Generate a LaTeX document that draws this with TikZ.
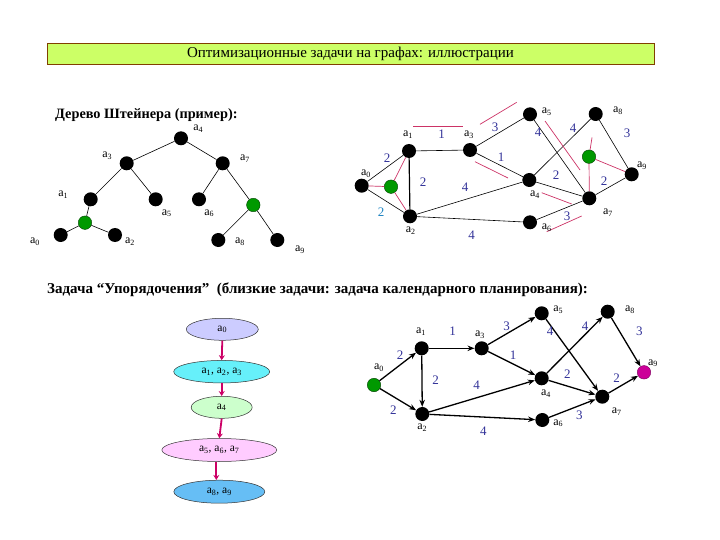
\documentclass[tikz,border=0pt]{standalone}
\usepackage{fontspec}
\setmainfont{Liberation Serif}
\usetikzlibrary{shapes.geometric,arrows.meta,calc}
\definecolor{barfill}{RGB}{204,255,102}
\definecolor{barline}{RGB}{128,64,0}
\definecolor{wcol}{RGB}{51,51,153}
\definecolor{pinkc}{RGB}{204,51,102}
\definecolor{greenc}{RGB}{0,153,0}
\definecolor{magc}{RGB}{204,0,153}
\definecolor{ea}{RGB}{204,204,255}
\definecolor{eb}{RGB}{102,240,250}
\definecolor{ec}{RGB}{204,255,204}
\definecolor{ed}{RGB}{255,204,255}
\definecolor{ee}{RGB}{102,190,245}
\definecolor{arrc}{RGB}{204,0,102}
\newcommand\av[1]{a\textsubscript{#1}}
\tikzset{
  vb/.style={circle,fill=black,inner sep=0pt,minimum size=14pt},
  vg/.style={circle,fill=greenc,draw=green!25!black,line width=0.4pt,inner sep=0pt,minimum size=13.5pt},
  vm/.style={circle,fill=magc,draw=magc!60!black,line width=0.4pt,inner sep=0pt,minimum size=13.5pt},
  lab/.style={font=\fontsize{12}{12}\selectfont,inner sep=0pt},
  wt/.style={font=\fontsize{13}{13}\selectfont,text=wcol,inner sep=0pt},
  edg/.style={draw=black,line width=0.6pt},
  pk/.style={draw=pinkc,line width=0.7pt},
  arr/.style={draw=black,line width=1.3pt,-{Stealth[length=7pt,width=5.5pt]}},
  ell/.style={ellipse,draw=black!80,line width=0.5pt,inner sep=0pt,font=\fontsize{11.5}{11.5}\selectfont},
  earr/.style={draw=arrc,line width=1.8pt,-{Stealth[length=5pt,width=6pt]}},
}
\begin{document}
\begin{tikzpicture}[x=1pt,y=-1pt]
\useasboundingbox (0,0) rectangle (720,540);
% title bar
\node[draw=barline,fill=barfill,line width=0.8pt,minimum width=607pt,minimum height=21pt,inner sep=0pt,font=\fontsize{15}{15}\selectfont] (title) at (350.5,53.7) {Оптимизационные задачи на графах: иллюстрации};

% Steiner tree
\node[font=\bfseries\fontsize{14.3}{14.3}\selectfont,anchor=west,inner sep=0pt] (sttl) at (55,115) {Дерево Штейнера (пример):};
\node[vb] (s4) at (181,138.3) {};
\node[vb] (s3) at (126.7,163.3) {};
\node[vb] (s7) at (222.7,163.3) {};
\node[vb] (s1) at (90.7,199.3) {};
\node[vb] (s5) at (155.7,199.3) {};
\node[vb] (s6) at (199,199.3) {};
\node[vg] (sg) at (253.3,205) {};
\node[vg] (sgl) at (85,222.7) {};
\node[vb] (s0) at (60.7,235) {};
\node[vb] (s2) at (115,235) {};
\node[vb] (s8) at (218.3,240) {};
\node[vb] (s9) at (277.3,240) {};
\foreach \a/\b in {s4/s3,s4/s7,s3/s1,s3/s5,s7/s6,s7/sg,s1/sgl,sgl/s0,sgl/s2,sg/s8,sg/s9}
  \draw[edg] (\a) -- (\b);
\node[lab] (ls4) at (198.3,128.3) {\av{4}};
\node[lab] (ls3) at (107.3,156) {\av{3}};
\node[lab] (ls7) at (245,158.3) {\av{7}};
\node[lab] (ls1) at (63.3,195) {\av{1}};
\node[lab] (ls5) at (166.7,213.3) {\av{5}};
\node[lab] (ls6) at (209.3,213.3) {\av{6}};
\node[lab] (ls0) at (35,241.7) {\av{0}};
\node[lab] (ls2) at (130,241.7) {\av{2}};
\node[lab] (ls8) at (240,241.7) {\av{8}};
\node[lab] (ls9) at (300,250) {\av{9}};

% top graph
\node[vb] (t0) at (361.7,185.7) {};
\node[vg] (tg) at (391,186.7) {};
\node[vb] (t1) at (409,151) {};
\node[vb] (t2) at (410,216.3) {};
\node[vb] (t3) at (470,150) {};
\node[vb] (t5) at (530,114.3) {};
\node[vb] (t8) at (595.7,114) {};
\node[vg] (tg2) at (589,156.7) {};
\node[vb] (t9) at (631.7,174.3) {};
\node[vb] (t4) at (529.3,180) {};
\node[vb] (t7) at (589.3,198.3) {};
\node[vb] (t6) at (530,222.3) {};
\foreach \a/\b in {t0/t1,t0/t2,t1/t3,t3/t5,t3/t4,t2/t4,t2/t6,t5/t7,t4/t8,t4/t7,t8/t9,t7/t9,t6/t7}
  \draw[edg] (\a) -- (\b);
\draw[edg,line width=1.2pt] (t1) -- (t2);
\foreach \a/\b in {tg/t0,tg/t1,tg/t2,tg2/t7,tg2/t9}
  \draw[pk] (\a) -- (\b);
\draw[pk] (tg2) -- ($(tg2)!0.45!(t8)$);
% pink marks along edges
\draw[pk] (413,126) -- (463,126);
\draw[pk] (480,124.3) -- (516.7,102.3);
\draw[pk] (475,161.7) -- (508,178);
\draw[pk] (545,121) -- (580,170);
\draw[pk] (541.7,192.7) -- (571.7,204);
\draw[pk] (546.7,231.7) -- (581.7,216);
\node[lab] (lt0) at (366,174) {\av{0}};
\node[lab] (lt1) at (408,135) {\av{1}};
\node[lab] (lt2) at (410.7,231) {\av{2}};
\node[lab] (lt3) at (469,135) {\av{3}};
\node[lab] (lt5) at (546.7,111.7) {\av{5}};
\node[lab] (lt8) at (618,111) {\av{8}};
\node[lab] (lt9) at (642,165.7) {\av{9}};
\node[lab] (lt4) at (535,195) {\av{4}};
\node[lab] (lt7) at (608,213) {\av{7}};
\node[lab] (lt6) at (546.7,227.7) {\av{6}};
\node[wt] at (441.7,134.3) {1};
\node[wt] at (387,158) {2};
\node[wt] at (423,182) {2};
\node[wt,text=wcol!60!cyan] at (381,212) {2};
\node[wt] at (465,187.7) {4};
\node[wt] at (471.7,235) {4};
\node[wt] at (495,127) {3};
\node[wt] at (501,157) {1};
\node[wt] at (538,132.7) {4};
\node[wt] at (573,128) {4};
\node[wt] at (627,133) {3};
\node[wt] at (556,175) {2};
\node[wt] at (604,180.7) {2};
\node[wt] at (567,216.7) {3};

% ordering task heading
\node[font=\bfseries\fontsize{15}{15}\selectfont,anchor=west,inner sep=0pt] (otl) at (47,290) {Задача “Упорядочения”\ \ (близкие задачи: задача календарного планирования):};

% ellipses
\node[ell,fill=ea,minimum width=72pt,minimum height=22pt] (e1) at (222.3,329.3) {\av{0}};
\node[ell,fill=eb,minimum width=96pt,minimum height=22.5pt] (e2) at (221.7,371.7) {\av{1}, \av{2}, \av{3}};
\node[ell,fill=ec,minimum width=61pt,minimum height=22pt] (e3) at (221.7,407.3) {\av{4}};
\node[ell,fill=ed,minimum width=115pt,minimum height=23pt] (e4) at (219.3,450) {\av{5}, \av{6}, \av{7}};
\node[ell,fill=ee,minimum width=91pt,minimum height=23pt] (e5) at (219.3,491.7) {\av{8}, \av{9}};
\draw[earr] (e1.south) -- (e2.north);
\draw[earr] (e2.south) -- (e3.north);
\draw[earr] (e3.south) -- (e4.north);
\draw[earr] ([xshift=-3pt]e4.south) -- ([xshift=-3pt]e5.north);

% bottom graph
\node[vg] (b0) at (374,385) {};
\node[vb] (b1) at (421.7,348.3) {};
\node[vb] (b2) at (422.3,414) {};
\node[vb] (b3) at (481.7,348.3) {};
\node[vb] (b5) at (541.7,313.3) {};
\node[vb] (b8) at (607.7,311.7) {};
\node[vm] (b9) at (644,372.3) {};
\node[vb] (b4) at (541.7,378.3) {};
\node[vb] (b7) at (602.3,396.7) {};
\node[vb] (b6) at (542.3,420) {};
\foreach \a/\b in {b0/b1,b0/b2,b1/b3,b1/b2,b3/b5,b3/b4,b2/b4,b2/b6,b5/b7,b4/b8,b4/b7,b8/b9,b7/b9,b6/b7}
  \draw[arr] (\a) -- (\b);
\node[lab] (lb0) at (379,367.7) {\av{0}};
\node[lab] (lb1) at (421,331.7) {\av{1}};
\node[lab] (lb2) at (422.3,427.7) {\av{2}};
\node[lab] (lb3) at (480,335) {\av{3}};
\node[lab] (lb5) at (558.3,310) {\av{5}};
\node[lab] (lb8) at (630,310) {\av{8}};
\node[lab] (lb9) at (653,363.3) {\av{9}};
\node[lab] (lb4) at (546,393.3) {\av{4}};
\node[lab] (lb7) at (616.7,411.7) {\av{7}};
\node[lab] (lb6) at (558.3,423.3) {\av{6}};
\node[wt] at (400,355) {2};
\node[wt] at (393.3,410) {2};
\node[wt] at (435.7,380) {2};
\node[wt] at (476.7,385) {4};
\node[wt] at (483.3,431.7) {4};
\node[wt] at (452.7,331) {1};
\node[wt] at (506.7,326) {3};
\node[wt] at (513,355) {1};
\node[wt] at (550,331) {4};
\node[wt] at (585,326.7) {4};
\node[wt] at (639.3,331.7) {3};
\node[wt] at (567.3,374) {2};
\node[wt] at (616.7,378.3) {2};
\node[wt] at (579.3,415) {3};
\end{tikzpicture}
\end{document}
